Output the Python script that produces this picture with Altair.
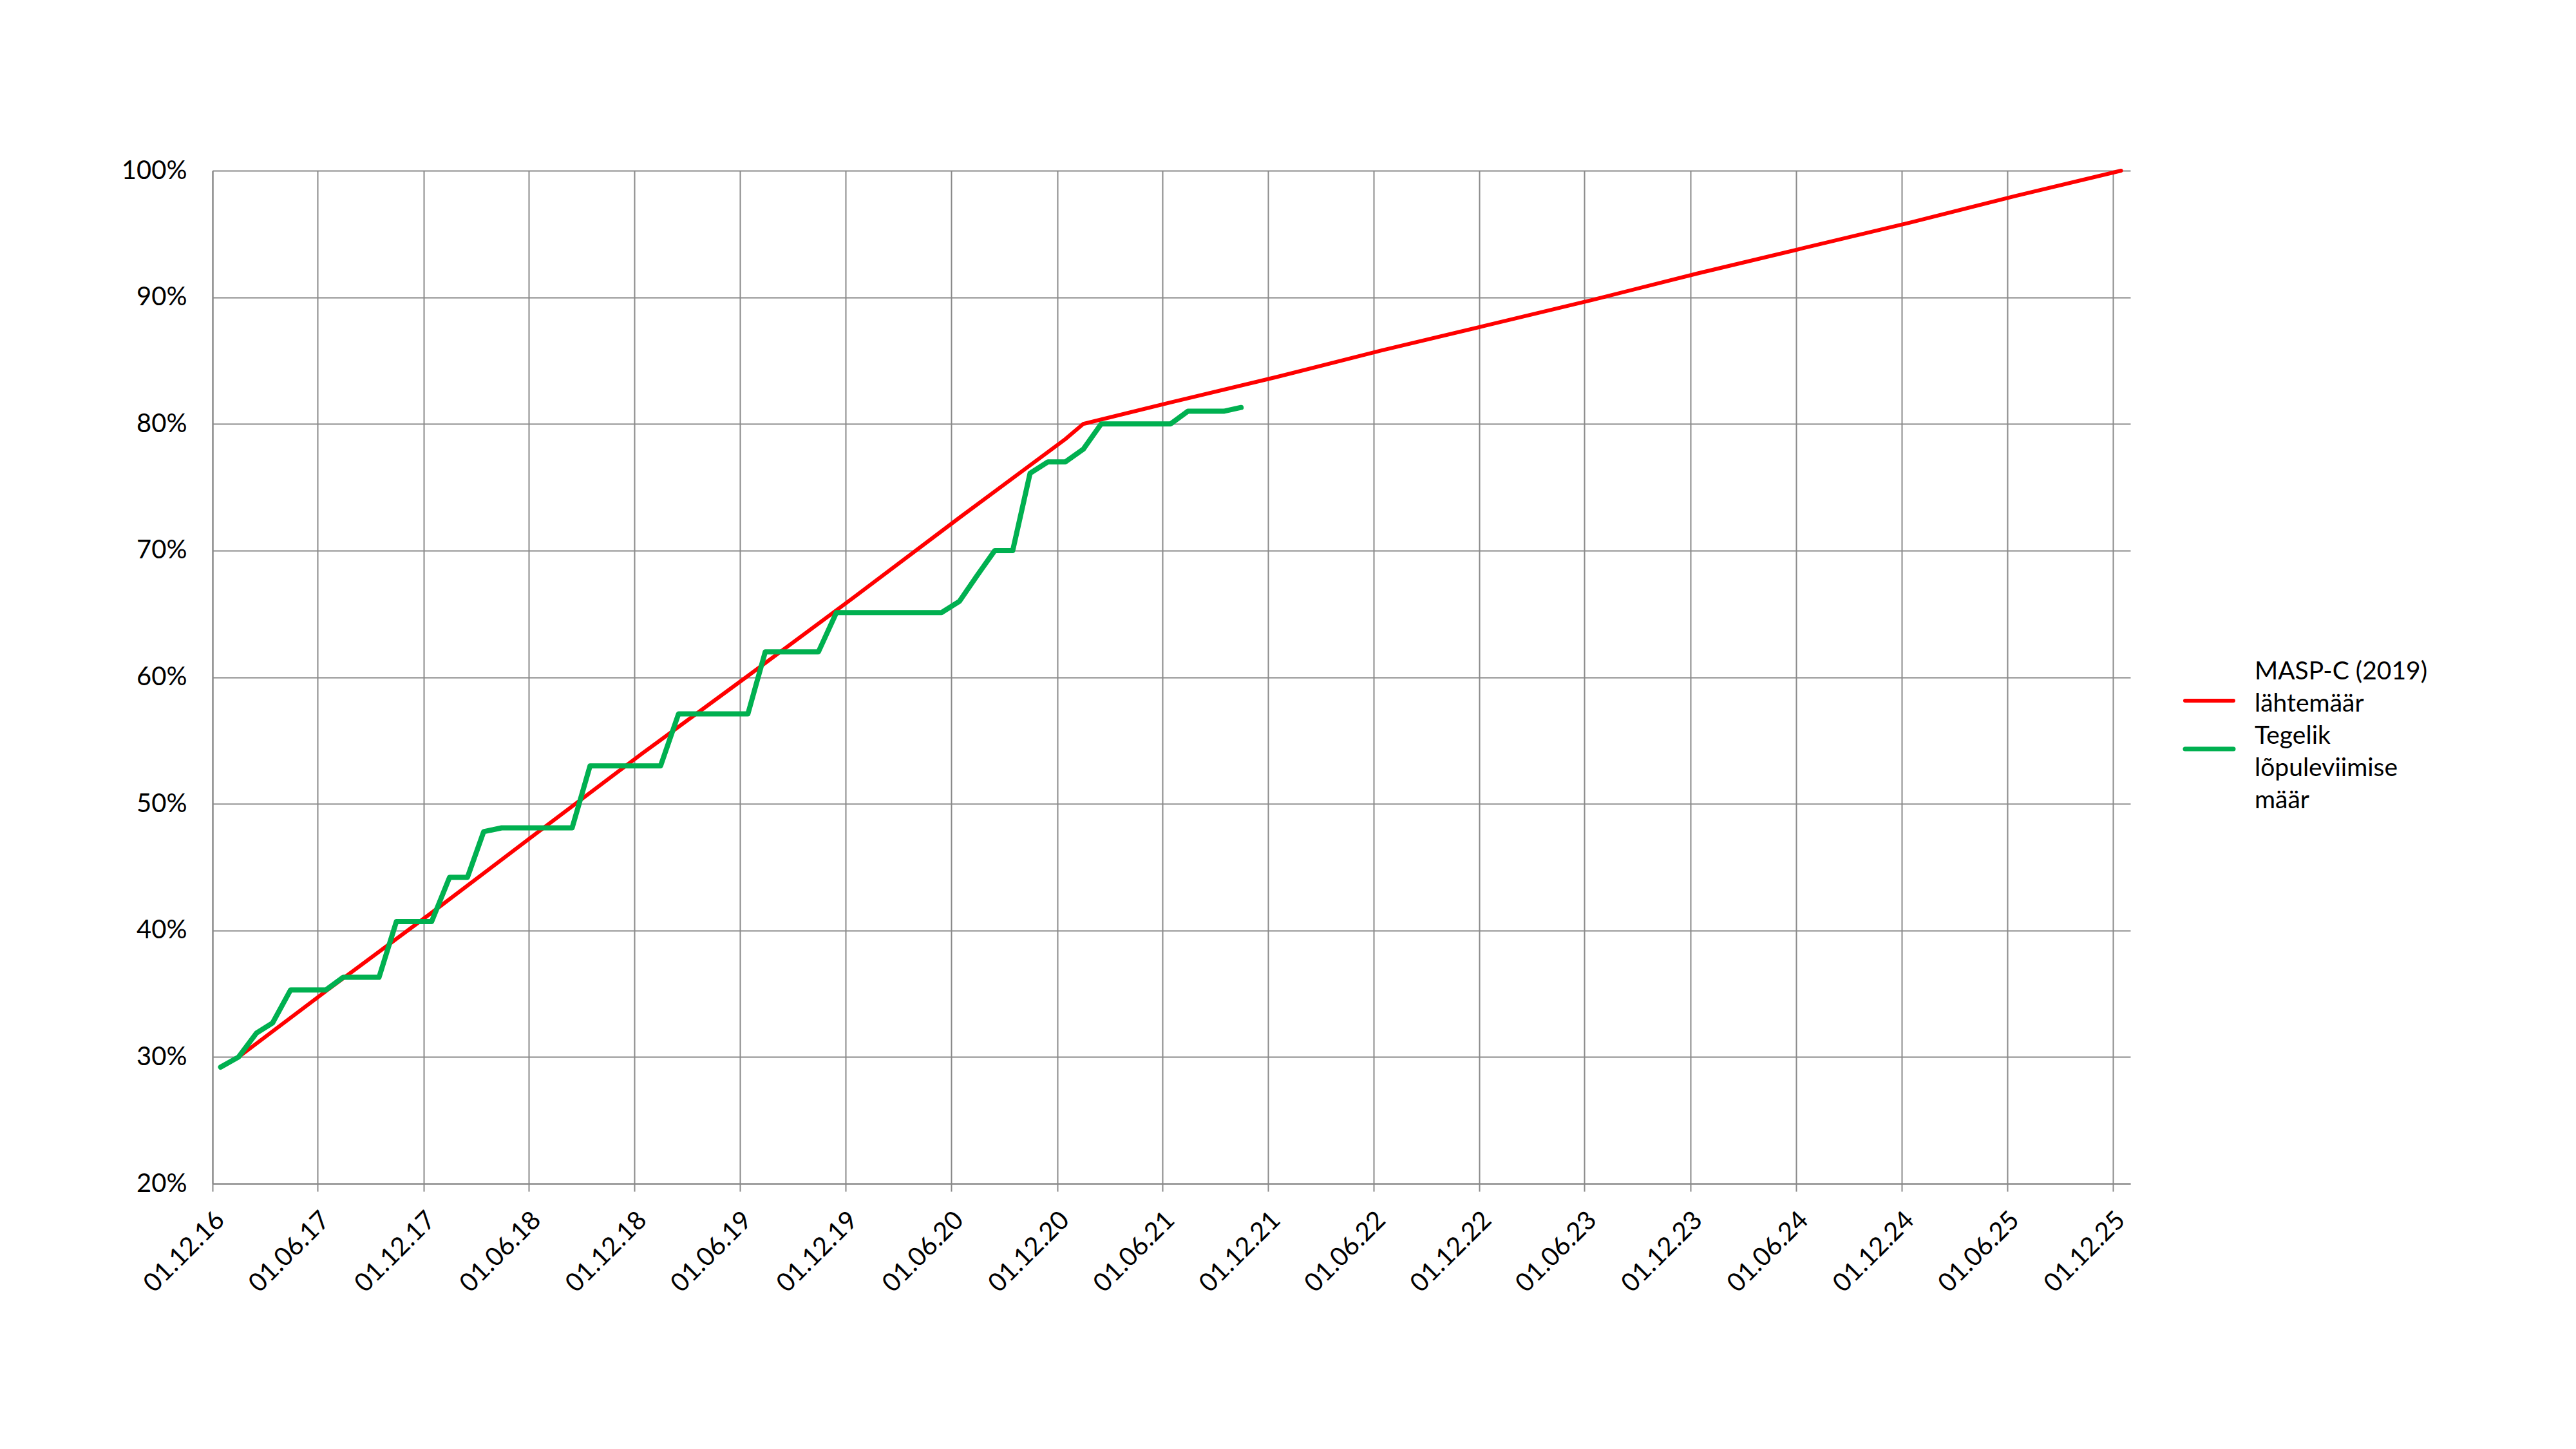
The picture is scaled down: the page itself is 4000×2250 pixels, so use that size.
import altair as alt
import pandas as pd

# MASP-C (2019) lähtemäär (mid-month points)
red_dates = ["2017-01-15", "2017-06-15", "2017-12-15", "2018-06-15", "2018-12-15",
             "2019-06-15", "2019-12-15", "2020-06-15", "2020-12-15", "2021-01-15",
             "2021-06-15", "2021-12-15", "2022-06-15", "2022-12-15", "2023-06-15",
             "2023-12-15", "2024-06-15", "2024-12-15", "2025-06-15", "2025-12-15"]
red_values = [30.0, 35.2, 41.4, 47.7, 54.0, 60.1, 66.3, 72.6, 78.8, 80.0,
              81.7, 83.7, 85.8, 87.8, 89.8, 91.9, 93.9, 95.9, 98.0, 100.0]

# Tegelik lõpuleviimise määr, monthly from Dec 2016 to Oct 2021
green_values = [29.2, 30.0, 31.9, 32.7, 35.3, 35.3, 35.3, 36.3, 36.3, 36.3,   # 12.16 - 09.17
                40.7, 40.7, 40.7, 44.2, 44.2, 47.8, 48.1, 48.1, 48.1, 48.1,   # 10.17 - 07.18
                48.1, 53.0, 53.0, 53.0, 53.0, 53.0, 57.1, 57.1, 57.1, 57.1,   # 08.18 - 05.19
                57.1, 62.0, 62.0, 62.0, 62.0, 65.1, 65.1, 65.1, 65.1, 65.1,   # 06.19 - 03.20
                65.1, 65.1, 66.0, 68.0, 70.0, 70.0, 76.1, 77.0, 77.0, 78.0,   # 04.20 - 01.21
                80.0, 80.0, 80.0, 80.0, 80.0, 81.0, 81.0, 81.0, 81.3]         # 02.21 - 10.21
green_dates = [(d + pd.Timedelta(days=14)).strftime("%Y-%m-%dT00:00")
               for d in pd.date_range("2016-12-01", periods=len(green_values), freq="MS")]

y_ticks = [20, 30, 40, 50, 60, 70, 80, 90, 100]
x_ticks = [(y, m) for y in range(2016, 2026) for m in (6, 12)][1:]

legend_red = ["MASP-C (2019)", "lähtemäär"]
legend_green = ["Tegelik", "lõpuleviimise", "määr"]

FONT = "Lato"
GRID = "#898989"

red_df = pd.DataFrame({"date": [d + "T00:00" for d in red_dates], "value": red_values})
green_df = pd.DataFrame({"date": green_dates, "value": green_values})

x_enc = alt.X(
    "date:T",
    title=None,
    scale=alt.Scale(domain=[alt.DateTime(year=2016, month=12, date=1),
                            alt.DateTime(year=2025, month=12, date=31)]),
    axis=alt.Axis(values=[alt.DateTime(year=y, month=m, date=1) for y, m in x_ticks],
                  format="%d.%m.%y", labelAngle=-45, labelAlign="right",
                  labelBaseline="middle", labelOffset=12, labelPadding=38,
                  tickSize=12, tickColor=GRID, tickWidth=2,
                  domainColor=GRID, domainWidth=2,
                  grid=True, gridColor=GRID, gridWidth=2,
                  labelFont=FONT, labelFontSize=40, labelColor="black"),
)
y_enc = alt.Y(
    "value:Q",
    title=None,
    scale=alt.Scale(domain=[20, 100]),
    axis=alt.Axis(values=y_ticks, labelExpr="datum.value + '%'", ticks=False,
                  labelPadding=40, domainColor=GRID, domainWidth=2,
                  grid=True, gridColor=GRID, gridWidth=2,
                  labelFont=FONT, labelFontSize=40, labelColor="black"),
)

red = alt.Chart(red_df).mark_line(color="#FF0000", strokeWidth=6, strokeJoin="round",
                                  strokeCap="round").encode(x=x_enc, y=y_enc)
green = alt.Chart(green_df).mark_line(color="#00B050", strokeWidth=8, strokeJoin="round",
                                      strokeCap="round").encode(x="date:T", y="value:Q")

one = alt.Data(values=[{}])
legend_layers = [
    alt.Chart(one).mark_rule(color="#FF0000", strokeWidth=6, strokeCap="round").encode(
        x=alt.value(3063), x2=alt.value(3138), y=alt.value(823)),
    alt.Chart(one).mark_rule(color="#00B050", strokeWidth=7, strokeCap="round").encode(
        x=alt.value(3063), x2=alt.value(3138), y=alt.value(898)),
]
for i, line in enumerate(legend_red + legend_green):
    legend_layers.append(
        alt.Chart(one).mark_text(align="left", baseline="alphabetic", font=FONT,
                                 fontSize=39, color="black").encode(
            x=alt.value(3171), y=alt.value(790 + 50 * i), text=alt.value(line)))

chart = alt.layer(red, green, *legend_layers).properties(
    width=2978, height=1573,
    autosize=alt.AutoSizeParams(type="none"),
    padding={"left": 322, "top": 257, "right": 680, "bottom": 400},
    background="white",
).configure_view(stroke=None)

chart.save("out.html", embed_options={"renderer": "svg", "actions": False})
